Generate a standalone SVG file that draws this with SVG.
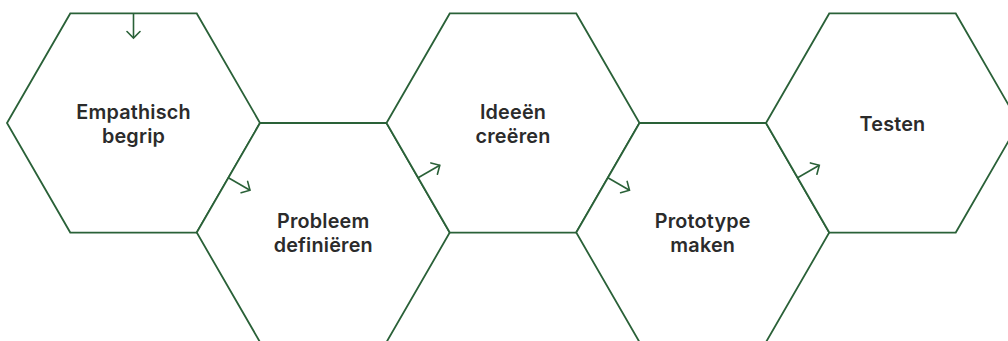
<svg xmlns="http://www.w3.org/2000/svg" width="1008" height="341" viewBox="0 0 1008 341">
<defs>
<style>
.hex{fill:#ffffff;stroke:#2a6138;stroke-width:1.8;stroke-linejoin:miter}
.lbl{font-family:Inter,"Noto Sans",sans-serif;font-weight:600;font-size:19.8px;fill:#2b2b2b;text-anchor:middle;letter-spacing:0.2px}
.arr{fill:none;stroke:#2a6138;stroke-width:1.6;marker-end:url(#chev)}
</style>
<marker id="chev" viewBox="-8 -8 16 16" refX="0" refY="0" markerWidth="16" markerHeight="16" markerUnits="userSpaceOnUse" orient="auto">
<path d="M-6.5,-6.5 L0,0 L-6.5,6.5" fill="none" stroke="#2a6138" stroke-width="1.6" stroke-linecap="round" stroke-linejoin="miter"/>
</marker>
</defs>
<rect width="1008" height="341" fill="#ffffff"/>
<g id="node-empathisch">
<polygon class="hex" points="7,123 70.25,13.45 196.75,13.45 260,123 196.75,232.55 70.25,232.55"/>
<text class="lbl" x="133.5" y="118.5">Empathisch</text>
<text class="lbl" x="133.5" y="142.5">begrip</text>
</g>
<g id="node-probleem">
<polygon class="hex" points="196.75,232.55 260,123 386.5,123 449.75,232.55 386.5,342.1 260,342.1"/>
<text class="lbl" x="323.25" y="228">Probleem</text>
<text class="lbl" x="323.25" y="252">definiëren</text>
</g>
<g id="node-ideeen">
<polygon class="hex" points="386.5,123 449.75,13.45 576.25,13.45 639.5,123 576.25,232.55 449.75,232.55"/>
<text class="lbl" x="513" y="118.5">Ideeën</text>
<text class="lbl" x="513" y="142.5">creëren</text>
</g>
<g id="node-prototype">
<polygon class="hex" points="576.25,232.55 639.5,123 766,123 829.25,232.55 766,342.1 639.5,342.1"/>
<text class="lbl" x="702.75" y="228">Prototype</text>
<text class="lbl" x="702.75" y="252">maken</text>
</g>
<g id="node-testen">
<polygon class="hex" points="766,123 829.25,13.45 955.75,13.45 1019,123 955.75,232.55 829.25,232.55"/>
<text class="lbl" x="892.5" y="131">Testen</text>
</g>
<g id="connectors">
<line class="arr" x1="133.5" y1="13.45" x2="133.5" y2="38"/>
<line class="arr" x1="228.4" y1="177.8" x2="250" y2="190.3"/>
<line class="arr" x1="418.1" y1="177.8" x2="439.8" y2="165.3"/>
<line class="arr" x1="607.9" y1="177.8" x2="629.5" y2="190.3"/>
<line class="arr" x1="797.6" y1="177.8" x2="819.3" y2="165.3"/>
</g>
</svg>
